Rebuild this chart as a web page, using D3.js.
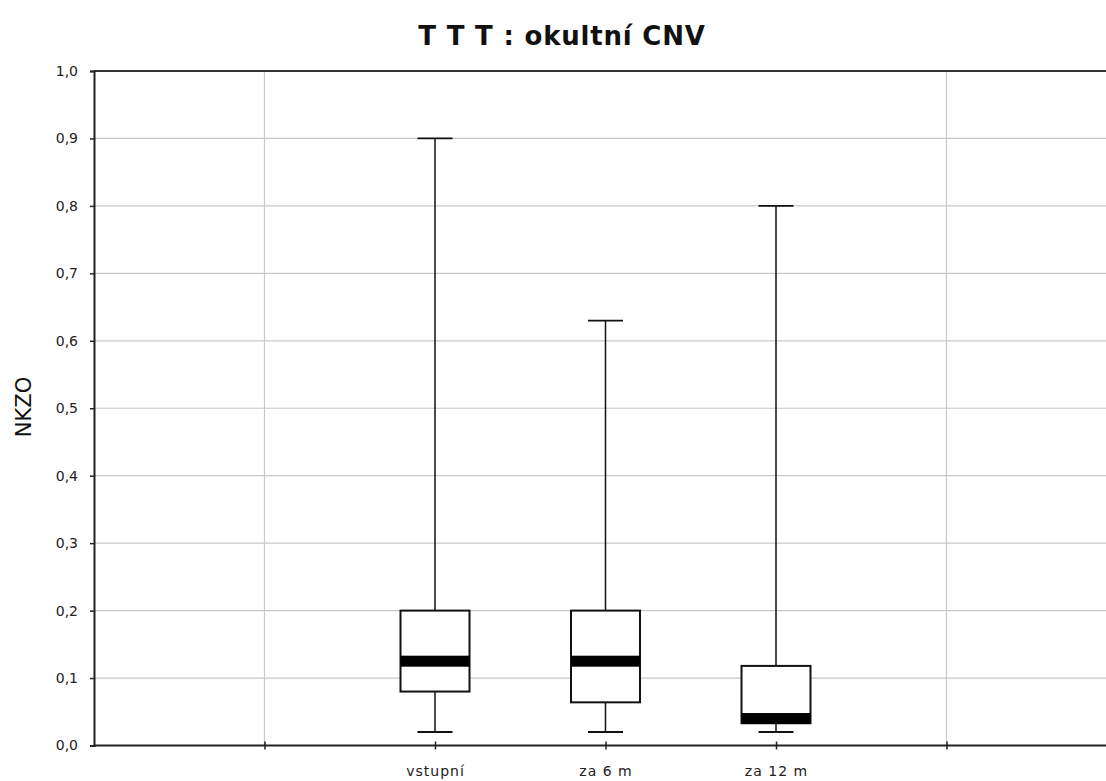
<!DOCTYPE html>
<html>
<head>
<meta charset="utf-8">
<script src="https://cdn.jsdelivr.net/npm/d3@7"></script>
<style>
  html, body { margin: 0; padding: 0; background: #fff; }
  svg { display: block; }
</style>
</head>
<body>
<svg id="chart" width="1106" height="781"></svg>
<script>
// Box plot data: NKZO at baseline, after 6 and after 12 months
const categories = ["vstupní", "za 6 m", "za 12 m"];
const slots = [2, 3, 4];              // slot position of each category on the x axis
const whiskerLow = [0.02, 0.02, 0.02];
const quartile1 = [0.08, 0.064, 0.033];
const medians = [0.125, 0.125, 0.04];
const quartile3 = [0.2, 0.2, 0.118];
const whiskerHigh = [0.9, 0.63, 0.8];
const yTicks = [0, 0.1, 0.2, 0.3, 0.4, 0.5, 0.6, 0.7, 0.8, 0.9, 1.0];
const xGridSlots = [1, 5];
const xTickSlots = [1, 2, 3, 4, 5];

const svg = d3.select("#chart");
const plotLeft = 94, plotTop = 71, plotBottom = 745.5, plotRight = 1106;

const x = d3.scaleLinear().domain([0, 6]).range([plotLeft, plotLeft + 6 * 170.5]);
const y = d3.scaleLinear().domain([0, 1]).range([plotBottom, plotTop]);

const fmt = v => d3.format(".1f")(v).replace(".", ",");

// horizontal grid
svg.append("g")
  .selectAll("line").data(yTicks.filter(d => d > 0 && d < 1)).join("line")
  .attr("x1", plotLeft).attr("x2", plotRight)
  .attr("y1", d => y(d)).attr("y2", d => y(d))
  .attr("stroke", "#c8c8c8").attr("stroke-width", 1.2);

// vertical grid
svg.append("g")
  .selectAll("line").data(xGridSlots).join("line")
  .attr("x1", d => x(d)).attr("x2", d => x(d))
  .attr("y1", plotTop).attr("y2", plotBottom)
  .attr("stroke", "#c8c8c8").attr("stroke-width", 1.2);

// top frame line
svg.append("line")
  .attr("x1", plotLeft).attr("x2", plotRight).attr("y1", plotTop).attr("y2", plotTop)
  .attr("stroke", "#333").attr("stroke-width", 2);

// y axis
const yAxis = d3.axisLeft(y).tickValues(yTicks).tickFormat(fmt).tickSize(4).tickPadding(12);
const gy = svg.append("g").attr("transform", `translate(${plotLeft},0)`).call(yAxis);
gy.select(".domain").attr("stroke", "#222").attr("stroke-width", 2);
gy.selectAll(".tick line").attr("stroke", "#222").attr("stroke-width", 1.5);
gy.selectAll(".tick text")
  .attr("font-family", "'DejaVu Sans', sans-serif").attr("font-size", 14).attr("fill", "#222");

// x axis
const labelBySlot = new Map(slots.map((s, i) => [s, categories[i]]));
const xAxis = d3.axisBottom(x).tickValues(xTickSlots)
  .tickFormat(d => labelBySlot.get(d) || "").tickSize(4).tickSizeOuter(0).tickPadding(17);
const gx = svg.append("g").attr("transform", `translate(0,${plotBottom})`).call(xAxis);
gx.select(".domain").attr("stroke", "#222").attr("stroke-width", 2).attr("d", `M${plotLeft},0H${plotRight}`);
gx.selectAll(".tick line").attr("stroke", "#222").attr("stroke-width", 1.5).attr("y1", -4);
gx.selectAll(".tick text")
  .attr("font-family", "'DejaVu Sans', sans-serif").attr("font-size", 14)
  .attr("letter-spacing", 1).attr("fill", "#222");

// boxes
const boxW = 69, capW = 35, medH = 11;
const boxes = svg.append("g").selectAll("g").data(categories).join("g")
  .attr("transform", (d, i) => `translate(${x(slots[i])},0)`);

boxes.append("line")
  .attr("x1", 0).attr("x2", 0)
  .attr("y1", (d, i) => y(whiskerHigh[i])).attr("y2", (d, i) => y(whiskerLow[i]))
  .attr("stroke", "#111").attr("stroke-width", 1.5);

boxes.append("line")
  .attr("x1", -capW / 2).attr("x2", capW / 2)
  .attr("y1", (d, i) => y(whiskerHigh[i])).attr("y2", (d, i) => y(whiskerHigh[i]))
  .attr("stroke", "#111").attr("stroke-width", 1.8);

boxes.append("line")
  .attr("x1", -capW / 2).attr("x2", capW / 2)
  .attr("y1", (d, i) => y(whiskerLow[i])).attr("y2", (d, i) => y(whiskerLow[i]))
  .attr("stroke", "#111").attr("stroke-width", 1.8);

boxes.append("rect")
  .attr("x", -boxW / 2).attr("width", boxW)
  .attr("y", (d, i) => y(quartile3[i]))
  .attr("height", (d, i) => y(quartile1[i]) - y(quartile3[i]))
  .attr("fill", "#fff").attr("stroke", "#111").attr("stroke-width", 2);

boxes.append("rect")
  .attr("x", -boxW / 2).attr("width", boxW)
  .attr("y", (d, i) => y(medians[i]) - medH / 2)
  .attr("height", medH)
  .attr("fill", "#000");

// title
svg.append("text")
  .attr("x", 562).attr("y", 45).attr("text-anchor", "middle")
  .attr("font-family", "'DejaVu Sans', sans-serif").attr("font-weight", "bold")
  .attr("font-size", 26).attr("letter-spacing", 0.8).attr("fill", "#111")
  .text("T T T : okultní CNV");

// y axis title
svg.append("text")
  .attr("transform", "translate(31,407) rotate(-90)")
  .attr("text-anchor", "middle")
  .attr("font-family", "'DejaVu Sans', sans-serif")
  .attr("font-size", 21).attr("fill", "#111")
  .text("NKZO");
</script>
</body>
</html>
